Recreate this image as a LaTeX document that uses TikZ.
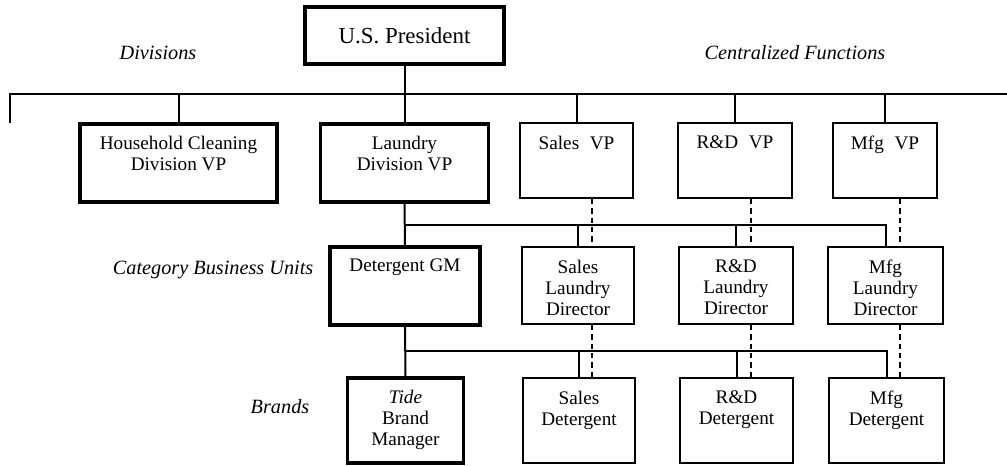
\documentclass[tikz,border=0pt]{standalone}
\usepackage{fontspec}
\setmainfont{Liberation Serif}
\begin{document}
\begin{tikzpicture}[x=0.75pt,y=-0.75pt,
  every node/.style={font=\fontsize{14.4}{15.75}\selectfont},
  boxsize/.style 2 args={minimum width=#1*0.75pt, minimum height=#2*0.75pt},
  thinbox/.style={draw, line width=1.5pt, inner sep=0pt},
  thickbox/.style={draw, line width=2.7pt, inner sep=0pt},
  boxtext/.style={anchor=north, align=center, inner sep=0pt, yshift=-10.3pt},
  tier/.style={font=\fontsize{15.2}{17}\selectfont\itshape},
  link/.style={line width=1.5pt},
  dotted link/.style={line width=1.5pt, dash pattern=on 4pt off 3pt}
]
\useasboundingbox (0,0) rectangle (1007,466);

% top of the chart
\node[thickbox, boxsize={199}{57}] (pres) at (404.5,35.5) {};
\node[font=\fontsize{17.2}{19}\selectfont] at (pres) {U.S. President};

\node[tier] (divlbl) at (158,53) {Divisions};
\node[tier] (cflbl) at (795,53) {Centralized Functions};
\node[tier, anchor=east] (cbulbl) at (318,270) {Category Business Units};
\node[tier] (brlbl) at (280,407) {Brands};

% division and functional VPs
\node[thickbox, boxsize={197}{78}] (hh) at (178.5,163) {};
\node[boxtext] at (hh.north) {Household Cleaning\\Division VP};
\node[thickbox, boxsize={168}{78}] (laundry) at (404.5,163) {};
\node[boxtext] at (laundry.north) {Laundry\\Division VP};
\node[thinbox, boxsize={113}{75}] (salesvp) at (576.5,160.5) {};
\node[boxtext] at (salesvp.north) {Sales\hspace{0.55em}VP};
\node[thinbox, boxsize={114}{75}] (rdvp) at (735,160.5) {};
\node[boxtext] at (rdvp.north) {R\&D\hspace{0.55em}VP};
\node[thinbox, boxsize={104}{75}] (mfgvp) at (885,160.5) {};
\node[boxtext] at (mfgvp.north) {Mfg\hspace{0.55em}VP};

% category business unit level
\node[thickbox, boxsize={150}{78}] (detgm) at (405,286) {};
\node[boxtext] at (detgm.north) {Detergent GM};
\node[thinbox, boxsize={112}{77}] (salesdir) at (578,285.5) {};
\node[boxtext] at (salesdir.north) {Sales\\Laundry\\Director};
\node[thinbox, boxsize={114}{77}] (rddir) at (736,285.5) {};
\node[boxtext] at (rddir.north) {R\&D\\Laundry\\Director};
\node[thinbox, boxsize={115}{77}] (mfgdir) at (885.5,285.5) {};
\node[boxtext] at (mfgdir.north) {Mfg\\Laundry\\Director};

% brand level
\node[thickbox, boxsize={116}{85}] (tide) at (405.5,420.5) {};
\node[boxtext] at (tide.north) {\textit{Tide}\\Brand\\Manager};
\node[thinbox, boxsize={112}{85}] (salesdet) at (579,420.5) {};
\node[boxtext] at (salesdet.north) {Sales\\Detergent};
\node[thinbox, boxsize={113}{85}] (rddet) at (736.5,420.5) {};
\node[boxtext] at (rddet.north) {R\&D\\Detergent};
\node[thinbox, boxsize={115}{85}] (mfgdet) at (886.5,420.5) {};
\node[boxtext] at (mfgdet.north) {Mfg\\Detergent};

% main bar under the president
\coordinate (barL) at (10,123);
\coordinate (barR) at (1007,94);
\draw[link] (barL) |- (barR);
\draw[link] (pres.south) -- (laundry.north);
\draw[link] (hh.north) -- (hh.north |- barR);
\draw[link] (salesvp.north) -- (salesvp.north |- barR);
\draw[link] (rdvp.north) -- (rdvp.north |- barR);
\draw[link] (mfgvp.north) -- (mfgvp.north |- barR);

% laundry division bar
\coordinate (bar2) at (0,225);
\draw[link] (laundry.south) -- (detgm.north);
\draw[link] (laundry.south |- bar2) -| (mfgdir.north);
\draw[link] (salesdir.north |- bar2) -- (salesdir.north);
\draw[link] (rddir.north |- bar2) -- (rddir.north);

% detergent bar
\coordinate (bar3) at (0,351);
\draw[link] (detgm.south) -- (tide.north);
\draw[link] (detgm.south |- bar3) -| (mfgdet.north);
\draw[link] (salesdet.north |- bar3) -- (salesdet.north);
\draw[link] (rddet.north |- bar3) -- (rddet.north);

% functional reporting lines
\coordinate (sx) at (592,0);
\coordinate (rx) at (751,0);
\coordinate (mx) at (900,0);
\draw[dotted link] (sx |- salesvp.south) -- (sx |- salesdir.north);
\draw[dotted link] (rx |- rdvp.south) -- (rx |- rddir.north);
\draw[dotted link] (mx |- mfgvp.south) -- (mx |- mfgdir.north);
\draw[dotted link] (sx |- salesdir.south) -- (sx |- salesdet.north);
\draw[dotted link] (rx |- rddir.south) -- (rx |- rddet.north);
\draw[dotted link] (mx |- mfgdir.south) -- (mx |- mfgdet.north);
\end{tikzpicture}
\end{document}
